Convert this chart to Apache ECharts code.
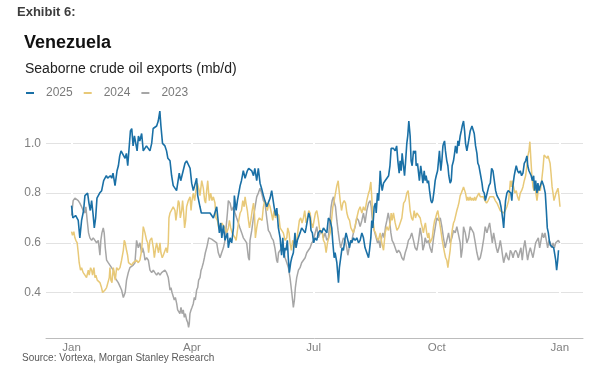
<!DOCTYPE html>
<html>
<head>
<meta charset="utf-8">
<script src="https://cdn.jsdelivr.net/npm/echarts@6.0.0/dist/echarts.min.js"></script>
<style>
html,body{margin:0;padding:0;background:#fff;}
#chart{width:597px;height:373px;}
</style>
</head>
<body>
<div id="chart"></div>
<script>
// X positions are day-of-year (0 = 1 Jan)
const monthTicks = [0, 90, 181, 273, 365];
const monthLabels = ['Jan', 'Apr', 'Jul', 'Oct', 'Jan'];
const yTicks = [0.4, 0.6, 0.8, 1.0];
const seriesNames = ['2025', '2024', '2023'];

const days2025 = [0,1,3,5,6.2,7.5,9,10,12,13,14,15,16,17,18,19,21,22.5,24,25,26,27,29,30,31,32.5,34,35,36,37,39,40,41,42,44,45,46,47,49,50,51,52.4,53.6,56,58.6,59.9,61,63.6,64.8,66,66.8,68,69.8,71,72,73.6,74.8,76,78.5,80.5,81.6,84.8,86,88.6,89.8,91,93.5,94.3,96,97,101,103.5,106,108.5,110.5,111.5,112.3,113.5,114.7,116.5,117.2,118.5,119.7,121,121.7,123,124,125,126,127,128.4,129.7,131.4,132.4,134.7,136,137,138.4,139.6,140.9,142,143.4,145.9,148.4,149.6,151.4,152.6,153.4,154.6,155.9,157,157.9,158.8,159.6,160.3,161.3,162,162.8,163.8,164.6,165.8,167,167.8,168.8,170.8,172,174.6,175.3,176.3,177.3,178.3,179,180,181,182,183.3,184.5,185.8,187,188.3,190.8,192,193.3,194.5,195.3,196.3,197,198.3,199.5,200.2,201.2,202.2,203.2,204.5,205.2,207,207.7,208.7,209.5,210.7,212,213.2,214.5,215.7,217,218.2,219.4,220.7,222,222.7,223.7,224.4,225.2,226.2,227.2,227.7,228.7,229.5,230.2,230.7,231.4,232.2,233.2,234.4,235.7,237,238,238.9,240.6,241.9,243,243.9,244.9,245.6,246.4,247.1,248.1,248.9,249.6,250.6,251.3,252.1,253.1,253.8,254.6,255.6,256.4,257.1,257.6,258.6,259.4,260,261,261.8,262.6,263.6,264.3,265,266,266.8,267.6,268.6,269.3,270,271,271.8,272.6,273.6,274.3,275,276,276.8,277.6,278.1,278.8,279.5,280.5,281.3,282,283,283.8,284.5,285.5,286.3,287,288,288.8,289.5,290.5,291.3,292,293,293.8,294.5,295.5,296.8,298,299.3,300,301,302,303,303.7,304.5,305.5,306.8,307.5,308.5,309.3,310.5,312,313,314,315,316,317,318,320,321,321.7,322.4,323,323.7,324.4,325.4,326.4,327.4,328.4,329.1,329.9,330.9,331.6,332.4,333.4,334.4,335.4,336.4,337.4,338.4,339.4,340.4,341,341.9,342.9,343.6,344.4,345.4,346.1,346.9,347.9,348.6,349.4,350.4,351.6,352.9,354.1,354.9,355.6,356.4,357.1,357.9,360.4,361.1,361.9,362.6,363.4,364];
const vals2025 = [0.75,0.70,0.71,0.69,0.62,0.69,0.73,0.79,0.80,0.76,0.73,0.77,0.72,0.66,0.70,0.78,0.80,0.81,0.85,0.86,0.87,0.86,0.87,0.86,0.88,0.83,0.89,0.91,0.95,0.97,0.95,0.94,0.96,0.91,1.05,1.06,0.99,1.03,0.97,1.03,1.01,1.04,0.97,0.99,0.97,1.0,1.06,1.07,1.09,1.13,1.07,1.0,0.99,0.97,0.94,0.93,0.87,0.83,0.81,0.88,0.85,0.92,0.93,0.90,0.84,0.81,0.86,0.79,0.745,0.72,0.72,0.72,0.70,0.745,0.64,0.68,0.62,0.67,0.61,0.64,0.58,0.62,0.60,0.66,0.79,0.73,0.77,0.80,0.83,0.85,0.89,0.86,0.89,0.90,0.89,0.87,0.90,0.85,0.90,0.84,0.82,0.79,0.745,0.78,0.81,0.745,0.71,0.74,0.66,0.62,0.55,0.62,0.54,0.58,0.57,0.61,0.54,0.48,0.52,0.54,0.56,0.64,0.58,0.61,0.64,0.66,0.64,0.66,0.69,0.72,0.70,0.65,0.64,0.60,0.62,0.61,0.64,0.65,0.64,0.66,0.64,0.70,0.69,0.66,0.60,0.54,0.56,0.52,0.44,0.50,0.54,0.58,0.57,0.62,0.64,0.60,0.58,0.61,0.60,0.62,0.61,0.62,0.60,0.61,0.64,0.62,0.58,0.56,0.54,0.57,0.62,0.69,0.66,0.745,0.76,0.72,0.80,0.77,0.83,0.89,0.84,0.81,0.84,0.85,0.85,0.87,0.91,0.98,0.98,0.97,0.99,0.93,0.88,0.93,0.89,0.96,0.91,0.87,0.92,1.0,1.03,1.09,1.03,0.93,0.91,0.97,0.96,0.97,0.91,0.92,0.88,0.85,0.91,0.88,0.84,0.89,0.85,0.87,0.84,0.85,0.81,0.77,0.76,0.77,0.81,0.85,0.87,0.89,0.93,0.97,0.89,0.93,0.99,1.0,1.01,0.97,0.93,0.91,0.87,0.84,0.85,0.91,0.93,0.96,0.99,0.96,1.01,0.99,1.03,1.05,1.07,1.09,1.05,1.0,0.97,1.01,1.05,1.07,1.07,1.04,0.99,0.96,0.92,0.91,0.88,0.84,0.81,0.80,0.77,0.77,0.83,0.84,0.90,0.89,0.85,0.81,0.79,0.77,0.745,0.72,0.69,0.66,0.72,0.77,0.80,0.81,0.81,0.80,0.77,0.83,0.87,0.89,0.91,0.89,0.88,0.89,0.87,0.88,0.92,0.93,0.95,0.91,0.89,0.89,0.87,0.85,0.87,0.81,0.85,0.80,0.84,0.81,0.83,0.85,0.83,0.80,0.73,0.66,0.64,0.61,0.59,0.58,0.58,0.53,0.49,0.53,0.57];

const days2024 = [0,0.7,1.7,2.5,3.2,4.2,5,5.7,6.7,7.5,8.7,10,11.2,12.5,13.2,14.2,15,15.7,16.7,17.5,18.2,19.2,20.2,21.2,22.4,23.2,24.2,25,26.2,27.4,28.2,28.7,29.4,30.2,31.2,31.9,32.7,33.7,34.9,36.2,37.4,38.7,39.4,40.1,41.1,41.9,42.6,43.6,44.9,46.1,47.4,48.6,49.9,51.1,52.4,53.6,54.9,56.1,56.9,57.6,58.6,59.9,61.1,61.9,62.9,63.6,64.3,65,66.1,66.8,67.8,68.6,69.6,70.6,71.6,72.3,72.8,73.6,74.8,76,77.3,78,79,79.8,80.5,81.3,82.3,83,83.8,84.5,85.3,86,87.3,88.6,89.3,90,91,92,93,94,95,96,97.3,98.5,99.5,100.2,101,101.8,102.5,103,104,105,106,107.2,108,109,110,111,112.2,114.7,116,117.2,118,119,120,122.2,123,124,125,126,127,128,129,129.7,130.4,131.4,132,133,134,135,136,136.7,137.4,138.4,139.4,140.4,142.4,143.4,144.4,145.4,146.4,147.4,148.4,149.4,150.4,151.4,152.4,153.4,154.9,155.9,157.1,158.3,159.6,160.9,161.6,162.6,163.3,164.3,165.3,166.3,167.3,168.3,169.3,170.3,171.3,172.3,173.3,174.3,175.3,176.3,177.3,178.3,179.3,180.3,181.3,182.3,183.3,184.3,185.3,186.3,187.3,188.3,189.3,190.3,191.3,192.3,193.3,194.3,195.3,196.3,197.3,198.3,199.3,199.8,200.8,201.8,202.8,203.8,204.8,205.8,206.8,207.8,208.8,209.7,210.7,212,213.2,214.5,215.7,217,218.2,219.4,220.7,222,222.7,223.7,224.4,225.2,226.2,227.2,228.2,229.4,230.7,231.9,233.2,234.4,235.6,236.9,238.2,238.9,239.6,240.6,241.9,243.2,244.4,245.7,246.9,248.2,249.4,250.6,251.6,252.4,253.1,254.1,255.1,256.1,257.1,258.1,259.4,260.6,261.3,262,263,263.8,264.5,265.5,266.3,267,268,268.8,269.6,270.6,271.4,272.1,273.1,273.8,274.6,275.6,276.3,277.1,278.1,278.8,279.6,280.5,281.3,282,283,283.8,284.5,285.5,286.3,287,288,288.8,289.5,290.5,291.3,292,293,293.8,294.5,295.5,296.2,297,298,298.8,299.5,300.5,301.3,302,303,304.5,305.5,306.7,307.8,309,310.2,311.4,312.6,313.8,315.5,316.7,318,319.2,320.4,321.7,323,324.2,325.4,326.7,327.4,328,328.7,329.4,330.4,331.4,332.4,333.4,334.4,335.4,336.4,337.4,338.4,339.4,340.4,341.1,341.9,342.6,343.4,344.1,344.9,345.6,346.4,347.1,347.9,348.6,349.4,350.4,351.4,352.4,353.2,354.2,355.4,356.2,356.9,357.7,358.4,359.2,359.9,360.6,361.4,362.1,362.9,363.6,364.4,365.1];
const vals2024 = [0.645,0.63,0.645,0.62,0.61,0.60,0.56,0.52,0.49,0.50,0.48,0.47,0.46,0.49,0.47,0.50,0.49,0.47,0.50,0.46,0.47,0.45,0.45,0.44,0.42,0.40,0.40,0.41,0.42,0.42,0.46,0.50,0.45,0.44,0.50,0.48,0.45,0.50,0.49,0.50,0.53,0.57,0.61,0.60,0.57,0.55,0.52,0.52,0.51,0.52,0.52,0.53,0.52,0.53,0.57,0.665,0.64,0.61,0.60,0.56,0.61,0.62,0.58,0.54,0.58,0.60,0.58,0.56,0.60,0.56,0.54,0.55,0.55,0.58,0.56,0.60,0.70,0.72,0.72,0.745,0.73,0.69,0.73,0.77,0.76,0.70,0.73,0.77,0.72,0.66,0.69,0.745,0.77,0.785,0.73,0.77,0.80,0.77,0.81,0.84,0.82,0.79,0.85,0.82,0.77,0.76,0.81,0.85,0.80,0.77,0.80,0.77,0.785,0.76,0.70,0.69,0.66,0.65,0.68,0.66,0.64,0.66,0.69,0.66,0.64,0.62,0.61,0.65,0.69,0.72,0.73,0.77,0.745,0.785,0.76,0.73,0.70,0.66,0.69,0.73,0.76,0.72,0.62,0.66,0.69,0.70,0.69,0.745,0.77,0.76,0.73,0.76,0.745,0.72,0.69,0.73,0.70,0.72,0.71,0.66,0.65,0.64,0.61,0.62,0.66,0.64,0.60,0.57,0.61,0.61,0.58,0.61,0.65,0.69,0.70,0.68,0.70,0.73,0.68,0.70,0.73,0.72,0.68,0.66,0.69,0.72,0.73,0.70,0.66,0.64,0.65,0.61,0.60,0.56,0.60,0.62,0.64,0.69,0.745,0.77,0.80,0.83,0.85,0.82,0.77,0.73,0.76,0.77,0.76,0.72,0.70,0.69,0.66,0.66,0.64,0.67,0.70,0.73,0.745,0.72,0.745,0.73,0.77,0.80,0.81,0.845,0.785,0.70,0.65,0.64,0.62,0.61,0.64,0.60,0.57,0.64,0.665,0.65,0.68,0.72,0.69,0.72,0.68,0.65,0.66,0.66,0.70,0.76,0.77,0.80,0.81,0.77,0.73,0.70,0.69,0.73,0.70,0.72,0.71,0.70,0.68,0.665,0.64,0.665,0.68,0.64,0.62,0.64,0.60,0.61,0.62,0.665,0.69,0.70,0.72,0.73,0.70,0.665,0.64,0.61,0.58,0.56,0.54,0.53,0.50,0.53,0.57,0.62,0.65,0.68,0.69,0.69,0.73,0.745,0.76,0.79,0.80,0.81,0.825,0.82,0.80,0.77,0.785,0.77,0.785,0.77,0.78,0.77,0.785,0.77,0.785,0.80,0.785,0.79,0.785,0.77,0.76,0.77,0.785,0.79,0.785,0.77,0.76,0.745,0.73,0.73,0.72,0.73,0.745,0.77,0.81,0.85,0.825,0.85,0.825,0.80,0.81,0.785,0.77,0.80,0.81,0.825,0.85,0.87,0.91,0.95,0.97,1.007,0.93,0.87,0.825,0.81,0.84,0.80,0.77,0.80,0.825,0.81,0.85,0.90,0.953,0.95,0.94,0.95,0.953,0.92,0.88,0.825,0.80,0.77,0.785,0.80,0.81,0.82,0.785,0.745];

const days2023 = [0,1.2,2.5,5,6.2,7.5,8.7,10,10.7,11.7,12.7,13.7,15,16.2,17.5,18.7,20,21.2,21.9,22.7,23.7,24.4,25.2,26.2,27.4,28.7,29.9,31.2,32.4,33.7,34.9,36.2,37.4,38.7,39.4,40.1,41.1,42.4,43.6,46.1,47.4,48.6,49.9,51.1,52.4,53.1,54.1,54.9,56.1,57.4,58.6,59.9,61.1,62.3,63.6,64.8,66.1,67.3,68.6,69.8,71,72.3,73.6,74.3,75.1,76.1,76.8,77.6,78.6,79.3,80.1,81,81.8,82.6,83.5,84.3,85,86,86.8,87.5,88,88.5,89.3,90,91,91.8,92.5,93.5,94.3,95,96,96.8,97.5,98.5,99.3,100,101,101.8,102.5,103.5,104.7,106,108.5,109.7,111,112.2,113.5,114.7,115.5,116.5,117.2,118.5,119.7,121,122.2,123.4,124.7,125.9,127.2,128.4,129.7,130.9,132.2,132.9,133.4,134.7,135.9,137.2,138.4,139.6,140.9,142.1,143.4,144.6,145.9,147.1,148.3,149.6,150.8,152,153.3,154,154.7,155.9,157.1,158.3,159.6,160.9,162.1,163.3,164.6,165.8,166.6,167.3,168.3,169.6,170.8,172,173.3,174.6,175.8,178.3,179.6,180.8,182.1,183.3,184.5,185.8,187,188.3,189.5,190.8,192,193.3,194,194.8,195.8,196.5,197.3,198.3,199.2,200.2,201.2,202.2,203.2,204.5,205.7,206.5,208.2,209.5,210.7,212,213.2,214.5,215.7,217,218.2,219.4,220.7,222,223.2,224,224.7,225.7,226.7,227.7,228.7,229.7,230.7,231.7,232.7,233.7,234.7,235.7,236.7,237.7,238.7,239.6,240.6,241.9,243.2,244.4,245.7,246.9,248.2,249.4,250.6,251.8,253.1,254.3,255.6,256.8,258.1,259.4,260.6,261.8,262.6,263.6,264.3,265.5,266.8,268,269.3,270.6,271.8,273,274.3,275.6,276.8,278,279.3,280.5,281.8,283,284.3,285.5,286.8,288,289.3,290.5,291.2,292.2,293,294.3,295.5,296.8,298,299.3,300.5,301.8,303,304.3,305.5,306.7,308.2,309.2,310.5,311.7,312.5,313.5,314.5,315.5,316.5,317.5,318.5,319.5,320.5,321.4,322.4,323,323.9,324.9,325.9,326.9,328,329,330,330.9,331.9,332.9,333.9,334.9,335.9,336.9,337.9,338.9,339.9,340.9,341.9,342.9,343.9,344.9,345.9,346.9,347.9,348.9,349.9,350.9,351.9,352.9,353.9,354.9,355.9,356.9,357.9,358.9,359.9,360.9,361.9,362.9,363.9,364.9];
const vals2023 = [0.71,0.77,0.78,0.77,0.76,0.745,0.73,0.72,0.745,0.69,0.64,0.62,0.61,0.62,0.61,0.60,0.61,0.55,0.61,0.64,0.66,0.64,0.58,0.53,0.52,0.52,0.50,0.49,0.46,0.46,0.44,0.44,0.41,0.38,0.38,0.40,0.45,0.48,0.50,0.51,0.52,0.61,0.58,0.60,0.56,0.58,0.56,0.53,0.54,0.53,0.49,0.48,0.49,0.48,0.47,0.48,0.47,0.48,0.48,0.49,0.48,0.46,0.41,0.42,0.40,0.40,0.37,0.38,0.355,0.33,0.335,0.315,0.34,0.315,0.33,0.30,0.315,0.29,0.28,0.26,0.275,0.315,0.33,0.34,0.355,0.38,0.37,0.41,0.42,0.45,0.46,0.49,0.50,0.52,0.54,0.56,0.58,0.60,0.62,0.62,0.615,0.61,0.60,0.56,0.54,0.56,0.58,0.61,0.66,0.72,0.77,0.76,0.73,0.745,0.72,0.70,0.68,0.66,0.64,0.62,0.61,0.60,0.54,0.53,0.61,0.65,0.70,0.745,0.785,0.80,0.82,0.80,0.77,0.76,0.70,0.65,0.64,0.62,0.61,0.58,0.53,0.52,0.56,0.56,0.58,0.57,0.54,0.52,0.50,0.46,0.40,0.34,0.37,0.42,0.46,0.49,0.50,0.52,0.53,0.54,0.56,0.58,0.60,0.61,0.64,0.665,0.62,0.64,0.65,0.62,0.64,0.61,0.62,0.70,0.745,0.77,0.785,0.76,0.745,0.69,0.65,0.61,0.58,0.60,0.62,0.61,0.58,0.55,0.60,0.61,0.64,0.665,0.70,0.69,0.665,0.69,0.72,0.68,0.73,0.76,0.77,0.745,0.70,0.66,0.64,0.62,0.60,0.61,0.58,0.62,0.64,0.62,0.665,0.69,0.72,0.69,0.64,0.61,0.60,0.58,0.56,0.57,0.56,0.54,0.53,0.56,0.58,0.61,0.62,0.64,0.61,0.58,0.57,0.61,0.66,0.62,0.57,0.59,0.62,0.60,0.61,0.58,0.56,0.62,0.66,0.70,0.69,0.70,0.665,0.62,0.58,0.58,0.64,0.60,0.62,0.65,0.64,0.665,0.66,0.60,0.54,0.58,0.665,0.64,0.60,0.62,0.665,0.66,0.64,0.60,0.56,0.53,0.54,0.57,0.62,0.665,0.64,0.665,0.68,0.64,0.60,0.64,0.61,0.58,0.56,0.58,0.61,0.58,0.54,0.52,0.54,0.56,0.54,0.53,0.57,0.56,0.54,0.56,0.57,0.56,0.54,0.56,0.58,0.53,0.58,0.61,0.57,0.53,0.56,0.58,0.56,0.54,0.57,0.60,0.61,0.62,0.58,0.61,0.64,0.62,0.64,0.61,0.58,0.61,0.60,0.58,0.60,0.58,0.60,0.60,0.61,0.60];

const FONT = "'Liberation Sans', Arial, sans-serif";
const COLORS = {'2025': '#1a70a6', '2024': '#e8c978', '2023': '#a6a6a6'};

function pairs(d, v) { return d.map((x, i) => [x, v[i]]); }

const chart = echarts.init(document.getElementById('chart'), null, {renderer: 'canvas'});
chart.setOption({
  animation: false,
  backgroundColor: '#fff',
  textStyle: {fontFamily: FONT},
  title: [
    {text: 'Exhibit 6:', left: 17, top: 6, padding: 0,
     textStyle: {fontSize: 13, fontWeight: 'bold', color: '#3d3d3d', fontFamily: FONT}},
    {text: 'Venezuela', left: 24, top: 34.5, padding: 0,
     textStyle: {fontSize: 18, fontWeight: 'bold', color: '#111', fontFamily: FONT}},
    {text: 'Seaborne crude oil exports (mb/d)', left: 25, top: 62.5, padding: 0,
     textStyle: {fontSize: 14, fontWeight: 'normal', color: '#222', fontFamily: FONT}},
    {text: 'Source: Vortexa, Morgan Stanley Research', left: 22, top: 353.5, padding: 0,
     textStyle: {fontSize: 10, fontWeight: 'normal', color: '#595959', fontFamily: FONT}}
  ],
  legend: {
    data: seriesNames,
    left: 26, top: 87, padding: 0,
    icon: 'rect', itemWidth: 8, itemHeight: 2, itemGap: 11,
    textStyle: {color: '#7a7a7a', fontSize: 12, fontFamily: FONT, padding: [0, 0, 0, 7]}
  },
  grid: {left: 46, right: 14, top: 101, bottom: 35, containLabel: false},
  xAxis: {
    type: 'value', min: -19.1, max: 382.3,
    axisLine: {show: true, lineStyle: {color: '#bcbcbc', width: 1}},
    axisTick: {show: false, customValues: monthTicks},
    axisLabel: {customValues: monthTicks, color: '#7f7f7f', fontSize: 11.5, margin: 4, fontFamily: FONT,
      formatter: v => monthLabels[monthTicks.indexOf(v)] || ''},
    splitLine: {show: true, lineStyle: {color: '#ffffff', width: 2}}
  },
  yAxis: {
    type: 'value', min: 0.217, max: 1.1707,
    axisLine: {show: false},
    axisTick: {show: false, customValues: yTicks},
    axisLabel: {customValues: yTicks, color: '#7f7f7f', fontSize: 12, margin: 5, fontFamily: FONT,
      formatter: v => v.toFixed(1)},
    splitLine: {show: true, lineStyle: {color: '#e2e2e2', width: 1}}
  },
  series: [
    {name: '2023', type: 'line', data: pairs(days2023, vals2023), showSymbol: false,
     lineStyle: {color: COLORS['2023'], width: 1.5}, itemStyle: {color: COLORS['2023']}},
    {name: '2024', type: 'line', data: pairs(days2024, vals2024), showSymbol: false,
     lineStyle: {color: COLORS['2024'], width: 1.5}, itemStyle: {color: COLORS['2024']}},
    {name: '2025', type: 'line', data: pairs(days2025, vals2025), showSymbol: false,
     lineStyle: {color: COLORS['2025'], width: 1.6}, itemStyle: {color: COLORS['2025']}}
  ]
});
</script>
</body>
</html>
